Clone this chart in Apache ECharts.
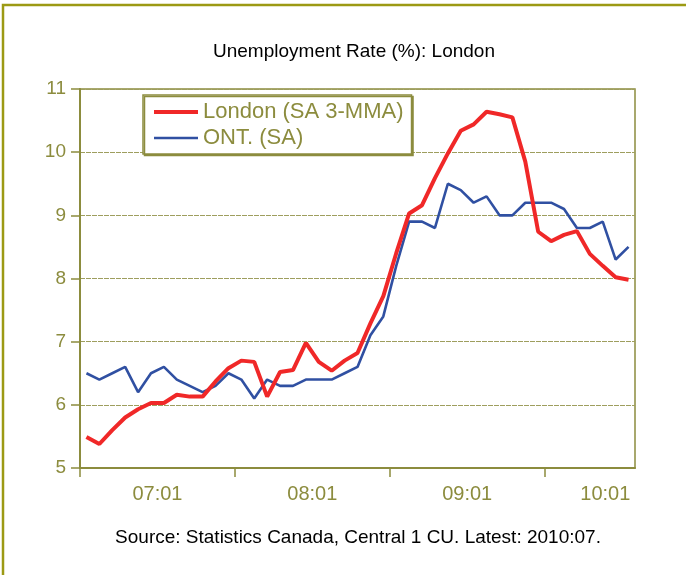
<!DOCTYPE html>
<html>
<head>
<meta charset="utf-8">
<script src="https://cdn.jsdelivr.net/npm/echarts@6/dist/echarts.min.js"></script>
<style>
html, body { margin: 0; padding: 0; background: #fff; }
#chart { width: 686px; height: 575px; }
</style>
</head>
<body>
<div id="chart"></div>
<script>
// months 2007:01 .. 2010:07
const months = [
  '2007:01', '2007:02', '2007:03', '2007:04', '2007:05', '2007:06', '2007:07', '2007:08', '2007:09', '2007:10', '2007:11', '2007:12',
  '2008:01', '2008:02', '2008:03', '2008:04', '2008:05', '2008:06', '2008:07', '2008:08', '2008:09', '2008:10', '2008:11', '2008:12',
  '2009:01', '2009:02', '2009:03', '2009:04', '2009:05', '2009:06', '2009:07', '2009:08', '2009:09', '2009:10', '2009:11', '2009:12',
  '2010:01', '2010:02', '2010:03', '2010:04', '2010:05', '2010:06', '2010:07'
]
const tickLabels = ['07:01', '08:01', '09:01', '10:01']
const london = [
  5.49, 5.38, 5.60, 5.80, 5.93, 6.03, 6.03, 6.16, 6.13, 6.13, 6.37, 6.58,
  6.70, 6.68, 6.13, 6.52, 6.55, 6.98, 6.68, 6.54, 6.70, 6.82, 7.29, 7.72,
  8.40, 9.03, 9.16, 9.59, 9.98, 10.34, 10.44, 10.64, 10.60, 10.55, 9.85, 8.74,
  8.59, 8.69, 8.75, 8.39, 8.20, 8.02, 7.98
]
const ontario = [
  6.5, 6.4, 6.5, 6.6, 6.2, 6.5, 6.6, 6.4, 6.3, 6.2, 6.3, 6.5,
  6.4, 6.1, 6.4, 6.3, 6.3, 6.4, 6.4, 6.4, 6.5, 6.6, 7.1, 7.4,
  8.2, 8.9, 8.9, 8.8, 9.5, 9.4, 9.2, 9.3, 9.0, 9.0, 9.2, 9.2,
  9.2, 9.1, 8.8, 8.8, 8.9, 8.3, 8.5
]

const olive = '#8c8c3e'
const red = '#f02828'
const blue = '#3050a2'
const font = '"Liberation Sans", Arial, sans-serif'

// label sits in the middle of its 12-month block, kept inside the axis
const yearStarts = tickLabels.map(l => months.indexOf('20' + l))
const labelPos = yearStarts.map(i => Math.min(i + 6, months.length - 2.3))
const labelAt = (v) => {
  const k = labelPos.findIndex(p => Math.abs(p - v) < 1e-6)
  return k < 0 ? '' : tickLabels[k]
}

const chart = echarts.init(document.getElementById('chart'))

const option = {
  backgroundColor: '#fff',
  animation: false,
  textStyle: { fontFamily: font },
  graphic: [
    {
      type: 'rect',
      shape: { x: 3, y: 5, width: 760, height: 660 },
      style: { fill: 'none', stroke: '#9c9a14', lineWidth: 2.5 },
      silent: true
    },
    {
      type: 'text',
      x: 354, y: 52,
      style: {
        text: 'Unemployment Rate (%): London',
        font: '19px ' + font,
        fill: '#000',
        align: 'center',
        verticalAlign: 'middle'
      }
    },
    {
      type: 'text',
      x: 358, y: 538,
      style: {
        text: 'Source: Statistics Canada, Central 1 CU. Latest: 2010:07.',
        font: '19px ' + font,
        fill: '#000',
        align: 'center',
        verticalAlign: 'middle'
      }
    }
  ],
  legend: {
    data: [
      { name: 'London (SA 3-MMA)', lineStyle: { width: 4, color: red } },
      { name: 'ONT. (SA)', lineStyle: { width: 2.6, color: blue } }
    ],
    orient: 'vertical',
    left: 143,
    top: 95,
    padding: [4, 8, 3, 9],
    itemGap: 0,
    itemWidth: 44,
    itemHeight: 14,
    itemStyle: { opacity: 0 },
    backgroundColor: '#fff',
    borderColor: olive,
    borderWidth: 1.5,
    shadowColor: olive,
    shadowOffsetX: 1.5,
    shadowOffsetY: 1.5,
    textStyle: { fontSize: 22, color: olive, fontFamily: font, lineHeight: 26 }
  },
  grid: {
    left: 80,
    top: 89,
    width: 555,
    height: 379,
    show: true,
    borderColor: olive,
    borderWidth: 1.5
  },
  xAxis: [
    {
      type: 'category',
      data: months,
      boundaryGap: true,
      position: 'bottom',
      axisLine: { lineStyle: { color: olive, width: 2 } },
      axisTick: { interval: 0, length: 5, lineStyle: { color: olive, width: 1.5 } },
      axisLabel: { show: false },
      splitLine: { show: false }
    },
    {
      type: 'value',
      min: 0,
      max: months.length,
      position: 'bottom',
      axisLine: { show: false },
      axisTick: { show: true, length: 9, customValues: yearStarts, lineStyle: { color: olive, width: 1.5 } },
      axisLabel: {
        customValues: labelPos,
        formatter: labelAt,
        fontSize: 20,
        color: olive,
        fontFamily: font,
        margin: 16
      },
      splitLine: { show: false }
    }
  ],
  yAxis: {
    type: 'value',
    min: 5,
    max: 11,
    interval: 1,
    axisLine: { show: true, lineStyle: { color: olive, width: 2 } },
    axisTick: { show: true, length: 9, lineStyle: { color: olive, width: 1.5 } },
    axisLabel: { fontSize: 19, color: olive, fontFamily: font, margin: 14 },
    splitLine: { lineStyle: { color: '#9e9e5e', width: 1.2, type: [5, 1] } }
  },
  series: [
    {
      name: 'ONT. (SA)',
      type: 'line',
      data: ontario,
      symbol: 'none',
      lineStyle: { color: blue, width: 2.6 },
      itemStyle: { color: blue }
    },
    {
      name: 'London (SA 3-MMA)',
      type: 'line',
      data: london,
      symbol: 'none',
      lineStyle: { color: red, width: 4 },
      itemStyle: { color: red }
    }
  ]
}

chart.setOption(option)
</script>
</body>
</html>
